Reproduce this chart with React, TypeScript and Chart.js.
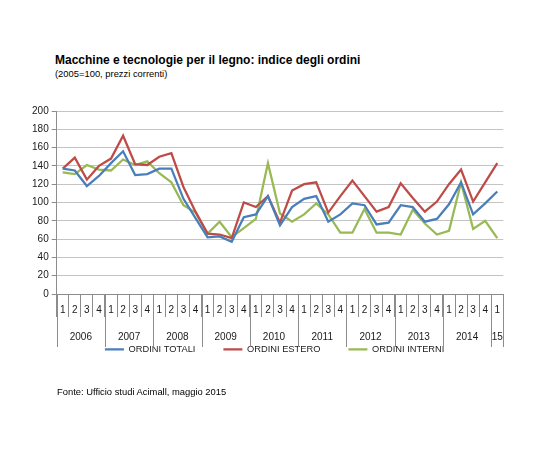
import { useEffect, useRef } from "react";
import { Chart, registerables } from "chart.js";

Chart.register(...registerables);

// quarters 2006 Q1 .. 2015 Q1
const quarterLabels = [
  "1", "2", "3", "4", "1", "2", "3", "4", "1", "2", "3", "4",
  "1", "2", "3", "4", "1", "2", "3", "4", "1", "2", "3", "4",
  "1", "2", "3", "4", "1", "2", "3", "4", "1", "2", "3", "4",
  "1",
];
const yearLabels = ["2006", "2007", "2008", "2009", "2010", "2011", "2012", "2013", "2014", "15"];
const yearQuarters = [4, 4, 4, 4, 4, 4, 4, 4, 4, 1];

const ordiniTotali = [
  137, 135, 118, 129, 143, 156, 130, 131, 137, 137, 104, 83,
  62, 63, 57, 84, 87, 107, 75, 95, 104, 107, 79, 87,
  99, 97, 76, 78, 97, 95, 79, 82, 98, 122, 87, 99,
  112,
];
const ordiniEstero = [
  137, 149, 125, 140, 148, 173, 142, 141, 150, 154, 117, 90,
  66, 65, 61, 100, 95, 107, 78, 113, 120, 122, 89, 107,
  124, 107, 90, 95, 121, 105, 90, 101, 120, 136, 101, 122,
  143,
];
const ordiniInterni = [
  133, 131, 141, 136, 135, 147, 141, 145, 132, 122, 97, 89,
  66, 79, 62, 72, 82, 143, 88, 79, 87, 99, 87, 67,
  67, 93, 67, 67, 65, 92, 77, 65, 69, 122, 71, 80,
  61,
];

const FONT = "'Liberation Sans', Arial, sans-serif";
const AXIS = "#8c8c8c";
const GRID = "#c4c4c4";
const TEXT = "#1a1a1a";

// draws the long year separators and the year labels under the quarter ticks
const yearGroupsPlugin = {
  id: "yearGroups",
  afterLayout(chart: any) {
    // the legend in the original is centred a bit to the right of the canvas
    if (chart.legend) chart.legend.left += 38;
  },
  afterDraw(chart: any) {
    const { ctx } = chart;
    const x = chart.scales.x;
    const step = x.getPixelForValue(1) - x.getPixelForValue(0);
    const top = x.top;
    const edges = [0];
    let idx = 0;
    yearQuarters.forEach((n) => {
      idx += n;
      edges.push(idx);
    });
    ctx.save();
    ctx.strokeStyle = AXIS;
    ctx.lineWidth = 1;
    ctx.beginPath();
    edges.forEach((e) => {
      const px = Math.round(x.getPixelForValue(e) - step / 2) + 0.5;
      ctx.moveTo(px, top);
      ctx.lineTo(px, top + 53);
    });
    ctx.stroke();
    ctx.fillStyle = TEXT;
    ctx.font = `10px ${FONT}`;
    ctx.textAlign = "center";
    ctx.textBaseline = "middle";
    yearLabels.forEach((lab, i) => {
      const a = x.getPixelForValue(edges[i]);
      const b = x.getPixelForValue(edges[i + 1] - 1);
      ctx.fillText(lab, (a + b) / 2, top + 43);
    });
    ctx.restore();
  },
};

export default function App() {
  const canvasRef = useRef<HTMLCanvasElement>(null);
  const chartRef = useRef<Chart | null>(null);

  useEffect(() => {
    if (!canvasRef.current) return;
    if (chartRef.current) chartRef.current.destroy();

    const line = (label: string, data: number[], color: string) => ({
      label,
      data,
      borderColor: color,
      backgroundColor: color,
      borderWidth: 2.25,
      pointRadius: 0,
      pointStyle: "line" as const,
      tension: 0,
    });

    chartRef.current = new Chart(canvasRef.current, {
      type: "line",
      data: {
        labels: quarterLabels,
        datasets: [
          line("ORDINI TOTALI", ordiniTotali, "#4a7ebb"),
          line("ORDINI ESTERO", ordiniEstero, "#be4b48"),
          line("ORDINI INTERNI", ordiniInterni, "#98b954"),
        ],
      },
      options: {
        responsive: true,
        maintainAspectRatio: false,
        animation: false,
        layout: { padding: { top: 103, left: 0, right: 22.7, bottom: 90 } },
        scales: {
          x: {
            offset: true,
            grid: {
              offset: true,
              drawOnChartArea: false,
              tickLength: 23,
              color: AXIS,
            },
            border: { color: AXIS },
            ticks: {
              autoSkip: false,
              maxRotation: 0,
              padding: -13,
              color: TEXT,
              font: { family: FONT, size: 10 },
            },
            afterFit: (scale: any) => {
              scale.height = 22.7;
            },
          },
          y: {
            min: 0,
            max: 200,
            ticks: {
              stepSize: 20,
              padding: 3,
              color: TEXT,
              font: { family: FONT, size: 10 },
            },
            grid: { color: GRID, tickColor: AXIS, tickLength: 5 },
            border: { color: AXIS },
            afterFit: (scale: any) => {
              scale.width = 48.7;
            },
          },
        },
        plugins: {
          legend: {
            position: "bottom",
            labels: {
              usePointStyle: true,
              pointStyleWidth: 19,
              padding: 28,
              color: TEXT,
              font: { family: FONT, size: 9.3 },
            },
          },
          tooltip: { enabled: false },
        },
      },
      plugins: [yearGroupsPlugin],
    });

    return () => {
      if (chartRef.current) {
        chartRef.current.destroy();
        chartRef.current = null;
      }
    };
  }, []);

  return (
    <div style={{ position: "relative", width: 518, height: 446, fontFamily: FONT, color: "#000" }}>
      <div style={{ position: "absolute", left: 47, top: 45, fontSize: 12, lineHeight: "14px", fontWeight: "bold", whiteSpace: "nowrap" }}>
        Macchine e tecnologie per il legno: indice degli ordini
      </div>
      <div style={{ position: "absolute", left: 47, top: 59.5, fontSize: 9.4, lineHeight: "11px", whiteSpace: "nowrap" }}>
        (2005=100, prezzi correnti)
      </div>
      <canvas ref={canvasRef} style={{ position: "absolute", left: 0, top: 0 }} />
      <div style={{ position: "absolute", left: 49, top: 377.5, fontSize: 9.4, lineHeight: "11px", whiteSpace: "nowrap" }}>
        Fonte: Ufficio studi Acimall, maggio 2015
      </div>
    </div>
  );
}
